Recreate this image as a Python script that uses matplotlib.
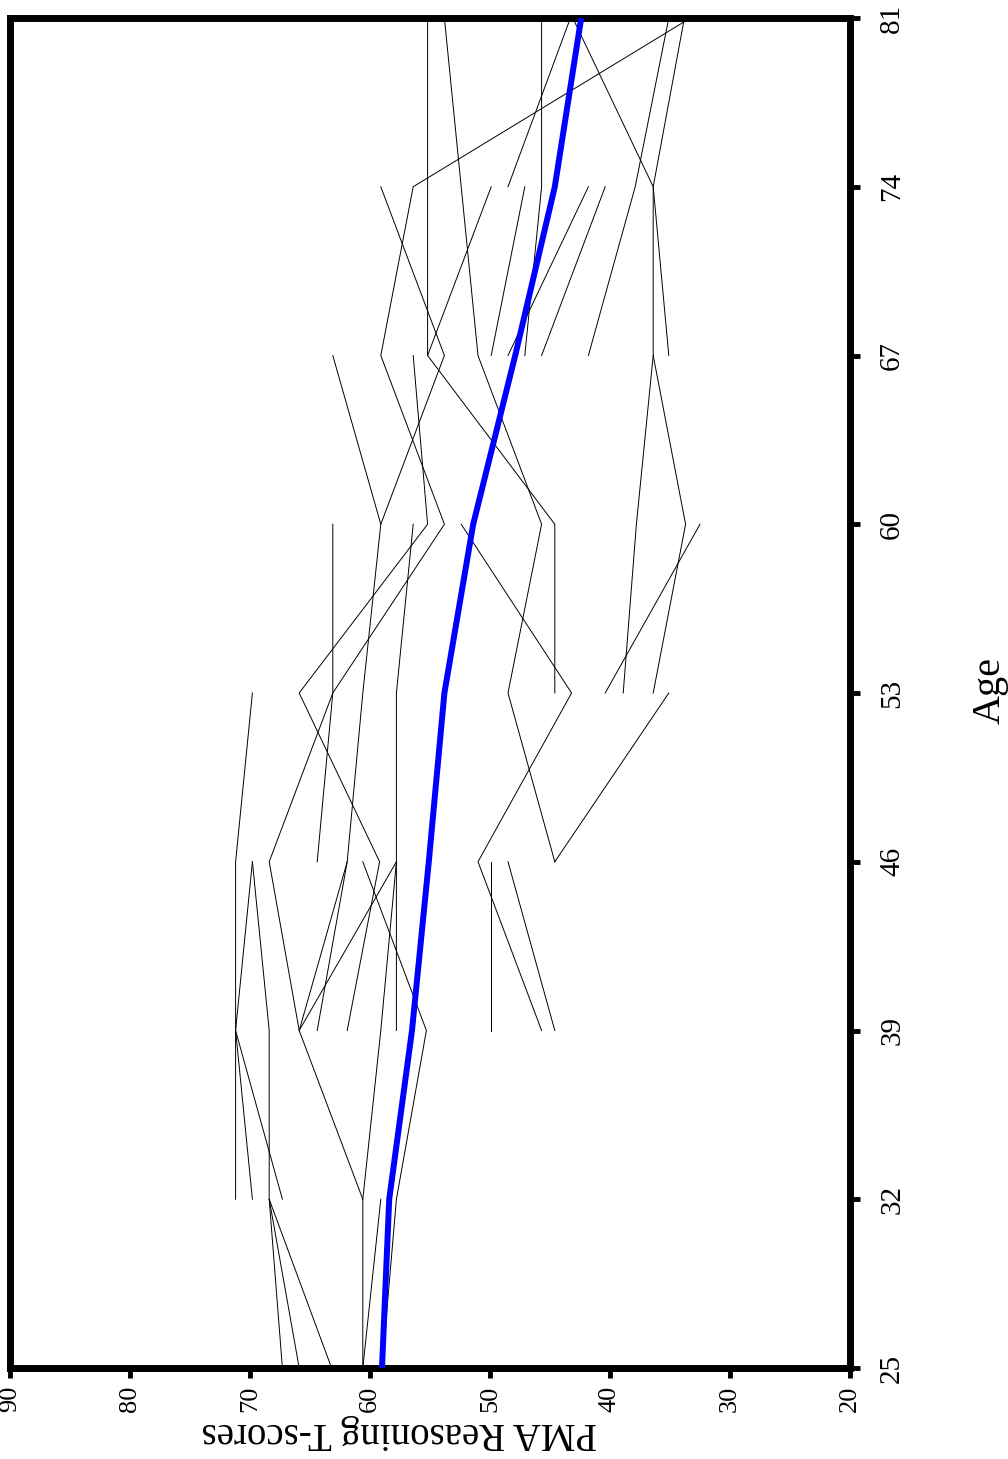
import matplotlib.pyplot as plt

plt.rcParams['font.family'] = ['Liberation Serif', 'DejaVu Serif']

# age of test occasion and the mean curve
ages = [25, 32, 39, 46, 53, 60, 67, 74, 81]
mean_scores = [59.0, 58.4, 56.5, 55.1, 53.8, 51.4, 47.9, 44.6, 42.4]

# each person: age at first test, then one score every 7 years
first_age = [53, 46, 67, 74, 53, 67, 67, 25, 39, 67, 67, 67, 67, 60, 39, 53, 46,
             39, 39, 53, 32, 46, 32, 25, 39, 39, 32, 25, 39, 39, 32, 25, 25, 25]
person_scores = [
    [44.6, 44.6, 55.2, 55.2, 55.2],
    [44.6, 48.5, 45.7, 51.0, 52.4, 53.8],
    [47.1, 45.7, 45.7],
    [48.5, 43.3],
    [38.9, 37.8, 36.4, 36.4, 43.1],
    [35.1, 36.4, 33.8],
    [41.8, 37.9, 35.1],
    [60.6, 60.6, 65.9, 68.4, 63.1, 53.8, 59.1, 56.4, 33.3],
    [65.9, 61.9, 60.6, 59.1, 53.8, 59.1],
    [55.2, 49.9],
    [49.9, 47.1],
    [48.5, 41.8],
    [45.7, 40.4],
    [59.1, 63.1],
    [61.9, 59.2, 65.9, 55.2, 56.4],
    [36.4, 33.7, 36.4],
    [64.4, 63.1, 63.1],
    [57.8, 57.8, 57.8, 56.4],
    [45.7, 51.0, 43.2, 52.4],
    [40.4, 32.5],
    [71.2, 71.2, 71.2, 69.8],
    [44.6, 35.1],
    [69.8, 71.2, 69.8],
    [67.3, 68.4, 68.4, 69.8],
    [64.4, 61.9],
    [65.9, 57.8],
    [60.6, 59.1, 57.8],
    [59.0, 57.8, 55.3, 60.6],
    [49.9, 49.9],
    [44.6, 48.5],
    [67.3, 71.2],
    [65.9, 68.4],
    [63.2, 68.4],
    [60.6, 59.1],
]

score_ticks = [90, 80, 70, 60, 50, 40, 30, 20]

fig = plt.figure(figsize=(10.08, 14.59), dpi=100)
ax = fig.add_axes([10 / 1008, 91 / 1459, 840 / 1008, 1350 / 1459])

# chart is drawn turned on its side: score across, age upwards
for start, sc in zip(first_age, person_scores):
    yrs = [start + 7 * i for i in range(len(sc))]
    ax.plot(sc, yrs, color='black', lw=0.7)

ax.plot(mean_scores, ages, color='#0000ff', lw=4.3, solid_capstyle='butt', zorder=5)

ax.set_xlim(90, 20)
ax.set_ylim(25, 81)
ax.set_xticks(score_ticks)
ax.set_xticklabels([str(t) for t in score_ticks], rotation=90, fontsize=19)
ax.yaxis.tick_right()
ax.set_yticks(ages)
ax.set_yticklabels([str(a) for a in ages], rotation=90, fontsize=21, va='center')
ax.tick_params(axis='both', direction='out', length=7, width=3.5, pad=6)
ax.tick_params(axis='y', pad=14)

for s in ax.spines.values():
    s.set_linewidth(5)

ax.set_xlabel('PMA Reasoning T-scores', rotation=180, fontsize=28,
              ha='center', va='center')
ax.xaxis.set_label_coords(0.464, -0.048)
ax.yaxis.set_label_position('right')
ax.set_ylabel('Age', rotation=90, fontsize=29, ha='center', va='center',
              rotation_mode='default')
ax.yaxis.set_label_coords(1.167, 0.502)

plt.savefig('out.png', dpi=100)
